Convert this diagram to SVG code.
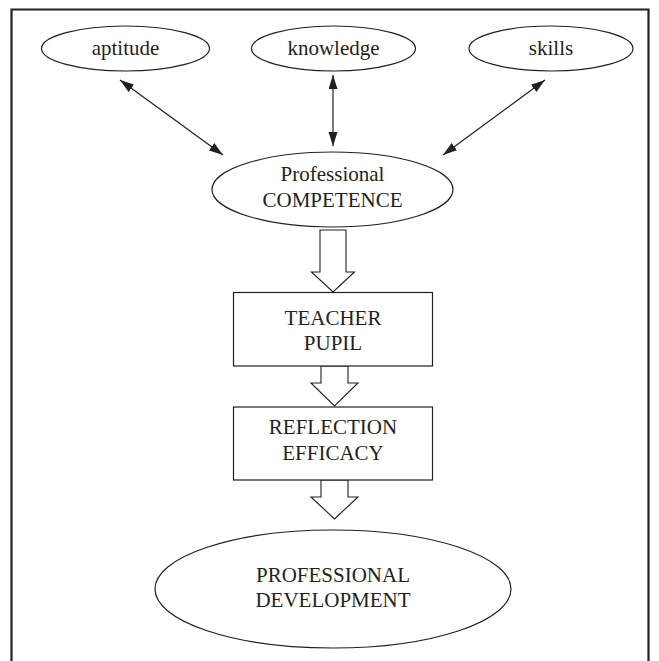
<svg xmlns="http://www.w3.org/2000/svg" width="659" height="661" viewBox="0 0 659 661">
<style>
.frame{stroke:#231f20;stroke-width:2.2;fill:none}
.shape{fill:#fff;stroke:#231f20;stroke-width:1.2}
.conn{stroke:#231f20;stroke-width:1.2;fill:none}
.hollow{fill:#fff;stroke:#231f20;stroke-width:1.1;stroke-linejoin:miter}
text{font-family:"Liberation Serif","Times New Roman",serif;font-size:21px;fill:#231f20;text-anchor:middle}
</style>
<defs>
<marker id="ah" markerUnits="userSpaceOnUse" markerWidth="16" markerHeight="12" refX="14" refY="4.5" orient="auto-start-reverse">
<path d="M0,0 L14,4.5 L0,9 z" fill="#231f20"/>
</marker>
</defs>
<rect width="659" height="661" fill="#fff"/>
<g id="frame">
<path class="frame" d="M11.5,661 V9.5 H648.5 V661"/>
</g>
<g id="connectors">
<line class="conn" x1="120" y1="80" x2="223" y2="155" marker-start="url(#ah)" marker-end="url(#ah)"/>
<line class="conn" x1="333" y1="75" x2="333" y2="146" marker-start="url(#ah)" marker-end="url(#ah)"/>
<line class="conn" x1="545" y1="80" x2="443" y2="155" marker-start="url(#ah)" marker-end="url(#ah)"/>
<polygon class="hollow" points="320,230 346,230 346,272 354.5,272 333,292 311.5,272 320,272"/>
<polygon class="hollow" points="321,366 348,366 348,383 358,383 334.5,406 311,383 321,383"/>
<polygon class="hollow" points="321,480 348,480 348,497 358,497 334.5,519 311,497 321,497"/>
</g>
<g id="aptitude">
<ellipse class="shape" cx="125.5" cy="48.5" rx="84" ry="22.5"/>
<text x="125.5" y="54.5">aptitude</text>
</g>
<g id="knowledge">
<ellipse class="shape" cx="333.5" cy="48.5" rx="82" ry="22.5"/>
<text x="333.5" y="54.5">knowledge</text>
</g>
<g id="skills">
<ellipse class="shape" cx="551" cy="48.5" rx="82" ry="22.5"/>
<text x="551" y="54.5">skills</text>
</g>
<g id="competence">
<ellipse class="shape" cx="332.5" cy="189.5" rx="120.5" ry="37.5"/>
<text x="332.5" y="181">Professional</text>
<text x="332.5" y="206.5">COMPETENCE</text>
</g>
<g id="teacher-pupil">
<rect class="shape" x="233.5" y="292.5" width="199" height="73.5"/>
<text x="333" y="325">TEACHER</text>
<text x="333" y="350">PUPIL</text>
</g>
<g id="reflection-efficacy">
<rect class="shape" x="233.5" y="407" width="199" height="73"/>
<text x="333" y="434">REFLECTION</text>
<text x="333" y="460">EFFICACY</text>
</g>
<g id="development">
<ellipse class="shape" cx="333" cy="589" rx="178" ry="59"/>
<text x="333" y="581.5">PROFESSIONAL</text>
<text x="333" y="607">DEVELOPMENT</text>
</g>
</svg>
